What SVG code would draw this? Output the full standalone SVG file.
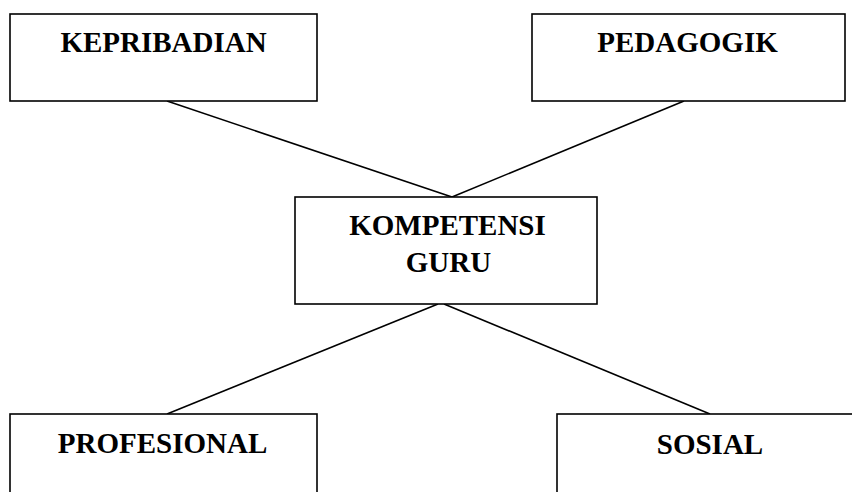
<svg xmlns="http://www.w3.org/2000/svg" width="852" height="492" viewBox="0 0 852 492">
<style>
.box{fill:#fff;stroke:#000;stroke-width:1.6}
.lbl{font-family:"Liberation Serif","Times New Roman",serif;font-weight:bold;font-size:29px;text-anchor:middle;fill:#000}
.conn{stroke:#000;stroke-width:1.6;fill:none}
</style>
<rect width="852" height="492" fill="#fff"/>
<g id="connectors">
<line class="conn" x1="167" y1="101" x2="452" y2="197"/>
<line class="conn" x1="684" y1="101" x2="452" y2="197"/>
<line class="conn" x1="438" y1="304" x2="167" y2="414"/>
<line class="conn" x1="444" y1="304" x2="710" y2="414"/>
</g>
<g id="kepribadian">
<rect class="box" x="10" y="14" width="307" height="87"/>
<text class="lbl" x="163.5" y="52">KEPRIBADIAN</text>
</g>
<g id="pedagogik">
<rect class="box" x="532" y="14" width="313" height="87"/>
<text class="lbl" x="687.5" y="52">PEDAGOGIK</text>
</g>
<g id="kompetensi-guru">
<rect class="box" x="295" y="197" width="302" height="107"/>
<text class="lbl" x="447.5" y="235">KOMPETENSI</text>
<text class="lbl" x="448.5" y="272">GURU</text>
</g>
<g id="profesional">
<rect class="box" x="10" y="414" width="307" height="90"/>
<text class="lbl" x="162.5" y="453">PROFESIONAL</text>
</g>
<g id="sosial">
<rect class="box" x="557" y="414" width="307" height="90"/>
<text class="lbl" x="710" y="454">SOSIAL</text>
</g>
</svg>
